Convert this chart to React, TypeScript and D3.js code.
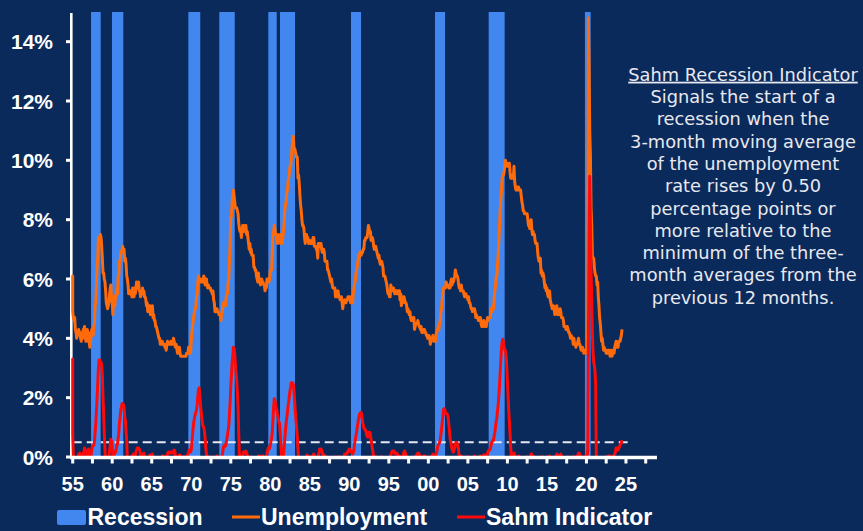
import React from 'react';
import * as d3 from 'd3';

const W = 863;
const H = 531;

// Monthly unemployment rate (%), seasonally adjusted. Each array starts in January.
// 1952–1953 serve only as look-back months for the Sahm calculation.
const rateLookback1952 = [
  3.2, 3.1, 2.9, 2.9, 3.0, 3.0, 3.2, 3.4, 3.1, 3.0, 2.8, 2.7,
  2.9, 2.6, 2.6, 2.7, 2.5, 2.5, 2.6, 2.7, 2.9, 3.1, 3.5, 4.5,
];
const rate1954to1959 = [
  4.9, 5.2, 5.7, 5.9, 5.9, 5.6, 5.8, 6.0, 6.1, 5.7, 5.3, 5.0,
  4.9, 4.7, 4.6, 4.7, 4.3, 4.2, 4.0, 4.2, 4.1, 4.3, 4.2, 4.2,
  4.0, 3.9, 4.2, 4.0, 4.3, 4.3, 4.4, 4.1, 3.9, 3.9, 4.3, 4.2,
  4.2, 3.9, 3.7, 3.9, 4.1, 4.3, 4.2, 4.1, 4.4, 4.5, 5.1, 5.2,
  5.8, 6.4, 6.7, 7.4, 7.4, 7.3, 7.5, 7.4, 7.1, 6.7, 6.2, 6.2,
  6.0, 5.9, 5.6, 5.2, 5.1, 5.0, 5.1, 5.2, 5.5, 5.7, 5.8, 5.3,
];
const rate1960s = [
  5.2, 4.8, 5.4, 5.2, 5.1, 5.4, 5.5, 5.6, 5.5, 6.1, 6.1, 6.6,
  6.6, 6.9, 6.9, 7.0, 7.1, 6.9, 7.0, 6.6, 6.7, 6.5, 6.1, 6.0,
  5.8, 5.5, 5.6, 5.6, 5.5, 5.5, 5.4, 5.7, 5.6, 5.4, 5.7, 5.5,
  5.7, 5.9, 5.7, 5.7, 5.9, 5.6, 5.6, 5.4, 5.5, 5.5, 5.7, 5.5,
  5.6, 5.4, 5.4, 5.3, 5.1, 5.2, 4.9, 5.0, 5.1, 5.1, 4.8, 5.0,
  4.9, 5.1, 4.7, 4.8, 4.6, 4.6, 4.4, 4.4, 4.3, 4.2, 4.1, 4.0,
  4.0, 3.8, 3.8, 3.8, 3.9, 3.8, 3.8, 3.8, 3.7, 3.7, 3.6, 3.8,
  3.9, 3.8, 3.8, 3.8, 3.8, 3.9, 3.8, 3.8, 3.8, 4.0, 3.9, 3.8,
  3.7, 3.8, 3.7, 3.5, 3.5, 3.7, 3.7, 3.5, 3.4, 3.4, 3.4, 3.4,
  3.4, 3.4, 3.4, 3.4, 3.4, 3.5, 3.5, 3.5, 3.7, 3.7, 3.5, 3.5,
];
const rate1970s = [
  3.9, 4.2, 4.4, 4.6, 4.8, 4.9, 5.0, 5.1, 5.4, 5.5, 5.9, 6.1,
  5.9, 5.9, 6.0, 5.9, 5.9, 5.9, 6.0, 6.1, 6.0, 5.8, 6.0, 6.0,
  5.8, 5.7, 5.8, 5.7, 5.7, 5.7, 5.6, 5.6, 5.5, 5.6, 5.3, 5.2,
  4.9, 5.0, 4.9, 5.0, 4.9, 4.9, 4.8, 4.8, 4.8, 4.6, 4.8, 4.9,
  5.1, 5.2, 5.1, 5.1, 5.1, 5.4, 5.5, 5.5, 5.9, 6.0, 6.6, 7.2,
  8.1, 8.1, 8.6, 8.8, 9.0, 8.8, 8.6, 8.4, 8.4, 8.4, 8.3, 8.2,
  7.9, 7.7, 7.6, 7.7, 7.4, 7.6, 7.8, 7.8, 7.6, 7.7, 7.8, 7.8,
  7.5, 7.6, 7.4, 7.2, 7.0, 7.2, 6.9, 7.0, 6.8, 6.8, 6.8, 6.4,
  6.4, 6.3, 6.3, 6.1, 6.0, 5.9, 6.2, 5.9, 6.0, 5.8, 5.9, 6.0,
  5.9, 5.9, 5.8, 5.8, 5.6, 5.7, 5.7, 6.0, 5.9, 6.0, 5.9, 6.0,
];
const rate1980s = [
  6.3, 6.3, 6.3, 6.9, 7.5, 7.6, 7.8, 7.7, 7.5, 7.5, 7.5, 7.2,
  7.5, 7.4, 7.4, 7.2, 7.5, 7.5, 7.2, 7.4, 7.6, 7.9, 8.3, 8.5,
  8.6, 8.9, 9.0, 9.3, 9.4, 9.6, 9.8, 9.8, 10.1, 10.4, 10.8, 10.8,
  10.4, 10.4, 10.3, 10.2, 10.1, 10.1, 9.4, 9.5, 9.2, 8.8, 8.5, 8.3,
  8.0, 7.8, 7.8, 7.7, 7.4, 7.2, 7.5, 7.5, 7.3, 7.4, 7.2, 7.3,
  7.3, 7.2, 7.2, 7.3, 7.2, 7.4, 7.4, 7.1, 7.1, 7.1, 7.0, 7.0,
  6.7, 7.2, 7.2, 7.1, 7.2, 7.2, 7.0, 6.9, 7.0, 7.0, 6.9, 6.6,
  6.6, 6.6, 6.6, 6.3, 6.3, 6.2, 6.1, 6.0, 5.9, 6.0, 5.8, 5.7,
  5.7, 5.7, 5.7, 5.4, 5.6, 5.4, 5.4, 5.6, 5.4, 5.4, 5.3, 5.3,
  5.4, 5.2, 5.0, 5.2, 5.2, 5.3, 5.2, 5.2, 5.3, 5.3, 5.4, 5.4,
];
const rate1990s = [
  5.4, 5.3, 5.2, 5.4, 5.4, 5.2, 5.5, 5.7, 5.9, 5.9, 6.2, 6.3,
  6.4, 6.6, 6.8, 6.7, 6.9, 6.9, 6.8, 6.9, 6.9, 7.0, 7.0, 7.3,
  7.3, 7.4, 7.4, 7.4, 7.6, 7.8, 7.7, 7.6, 7.6, 7.3, 7.4, 7.4,
  7.3, 7.1, 7.0, 7.1, 7.1, 7.0, 6.9, 6.8, 6.7, 6.8, 6.6, 6.5,
  6.6, 6.6, 6.5, 6.4, 6.1, 6.1, 6.1, 6.0, 5.9, 5.8, 5.6, 5.5,
  5.6, 5.4, 5.4, 5.8, 5.6, 5.6, 5.7, 5.7, 5.6, 5.5, 5.6, 5.6,
  5.6, 5.5, 5.5, 5.6, 5.6, 5.3, 5.5, 5.1, 5.2, 5.2, 5.4, 5.4,
  5.3, 5.2, 5.2, 5.1, 4.9, 5.0, 4.9, 4.8, 4.9, 4.7, 4.6, 4.7,
  4.6, 4.6, 4.7, 4.3, 4.4, 4.5, 4.5, 4.5, 4.6, 4.5, 4.4, 4.4,
  4.3, 4.4, 4.2, 4.3, 4.2, 4.3, 4.3, 4.2, 4.2, 4.1, 4.1, 4.0,
];
const rate2000s = [
  4.0, 4.1, 4.0, 3.8, 4.0, 4.0, 4.0, 4.1, 3.9, 3.9, 3.9, 3.9,
  4.2, 4.2, 4.3, 4.4, 4.3, 4.5, 4.6, 4.9, 5.0, 5.3, 5.5, 5.7,
  5.7, 5.7, 5.7, 5.9, 5.8, 5.8, 5.8, 5.7, 5.7, 5.7, 5.9, 6.0,
  5.8, 5.9, 5.9, 6.0, 6.1, 6.3, 6.2, 6.1, 6.1, 6.0, 5.8, 5.7,
  5.7, 5.6, 5.8, 5.6, 5.6, 5.6, 5.5, 5.4, 5.4, 5.5, 5.4, 5.4,
  5.3, 5.4, 5.2, 5.2, 5.1, 5.0, 5.0, 4.9, 5.0, 5.0, 5.0, 4.9,
  4.7, 4.8, 4.7, 4.7, 4.6, 4.6, 4.7, 4.7, 4.5, 4.4, 4.5, 4.4,
  4.6, 4.5, 4.4, 4.5, 4.4, 4.6, 4.7, 4.6, 4.7, 4.7, 4.7, 5.0,
  5.0, 4.9, 5.1, 5.0, 5.4, 5.6, 5.8, 6.1, 6.1, 6.5, 6.8, 7.3,
  7.8, 8.3, 8.7, 9.0, 9.4, 9.5, 9.5, 9.6, 9.8, 10.0, 9.9, 9.9,
];
const rate2010s = [
  9.8, 9.8, 9.9, 9.9, 9.6, 9.4, 9.4, 9.5, 9.5, 9.4, 9.8, 9.3,
  9.1, 9.0, 9.0, 9.1, 9.0, 9.1, 9.0, 9.0, 9.0, 8.8, 8.6, 8.5,
  8.3, 8.3, 8.2, 8.2, 8.2, 8.2, 8.2, 8.0, 7.8, 7.8, 7.7, 7.9,
  8.0, 7.7, 7.5, 7.6, 7.5, 7.5, 7.3, 7.2, 7.2, 7.2, 6.9, 6.7,
  6.6, 6.7, 6.7, 6.2, 6.3, 6.1, 6.2, 6.1, 5.9, 5.7, 5.8, 5.6,
  5.7, 5.5, 5.4, 5.4, 5.6, 5.3, 5.2, 5.1, 5.0, 5.0, 5.1, 5.0,
  4.8, 4.9, 5.0, 5.1, 4.8, 4.9, 4.8, 4.9, 5.0, 4.9, 4.7, 4.7,
  4.7, 4.6, 4.4, 4.4, 4.4, 4.3, 4.3, 4.4, 4.3, 4.2, 4.2, 4.1,
  4.0, 4.1, 4.0, 4.0, 3.8, 4.0, 3.8, 3.8, 3.7, 3.8, 3.8, 3.9,
  4.0, 3.8, 3.8, 3.7, 3.6, 3.6, 3.7, 3.6, 3.5, 3.6, 3.6, 3.6,
];
const rate2020s = [
  3.5, 3.5, 4.4, 14.8, 13.2, 11.0, 10.2, 8.4, 7.8, 6.8, 6.7, 6.7,
  6.4, 6.2, 6.1, 6.1, 5.8, 5.9, 5.4, 5.1, 4.7, 4.5, 4.2, 3.9,
  4.0, 3.8, 3.6, 3.7, 3.6, 3.6, 3.5, 3.6, 3.5, 3.6, 3.6, 3.5,
  3.4, 3.6, 3.5, 3.4, 3.6, 3.6, 3.5, 3.7, 3.8, 3.9, 3.7, 3.8,
  3.7, 3.9, 3.9, 3.9, 4.0, 4.1, 4.3,
];

// NBER recession spans as shaded (decimal years)
const recessionStarts = [1957.32, 1959.97, 1969.63, 1973.55, 1979.75, 1981.23, 1990.21, 2000.84, 2007.63, 2019.81];
const recessionEnds = [1958.54, 1961.4, 1971.14, 1975.5, 1980.81, 1983.13, 1991.48, 2002.11, 2009.65, 2020.53];

const yTickValues = [0, 2, 4, 6, 8, 10, 12, 14];
const xLabelYears = [1955, 1960, 1965, 1970, 1975, 1980, 1985, 1990, 1995, 2000, 2005, 2010, 2015, 2020, 2025];
const xLabelTexts = ['55', '60', '65', '70', '75', '80', '85', '90', '95', '00', '05', '10', '15', '20', '25'];
const sahmThreshold = 0.5;

const noteTitle = 'Sahm Recession Indicator';
const noteLines = [
  'Signals the start of a',
  'recession when the',
  '3-month moving average',
  'of the unemployment',
  'rate rises by 0.50',
  'percentage points or',
  'more relative to the',
  'minimum of the three-',
  'month averages from the',
  'previous 12 months.',
];

const BG = '#0a2a5c';
const BAR = '#4287ef';
const ORANGE = '#ff6a0a';
const RED = '#ff0a0a';
const WHITE = '#ffffff';

const seriesStartYear = 1952;
const plotStartIndex = rateLookback1952.length; // Jan 1954

const allRates = [
  ...rateLookback1952,
  ...rate1954to1959,
  ...rate1960s,
  ...rate1970s,
  ...rate1980s,
  ...rate1990s,
  ...rate2000s,
  ...rate2010s,
  ...rate2020s,
];

// Sahm rule: 3-month average minus the lowest 3-month average of the prior 12 months
const avg3 = allRates.map((v, i) => (i < 2 ? NaN : (allRates[i] + allRates[i - 1] + allRates[i - 2]) / 3));
const sahmValues = avg3.map((a, i) => {
  if (i < 14) return NaN;
  const prior = avg3.slice(i - 12, i);
  return a - (d3.min(prior) as number);
});

type Pt = [number, number];
const unemploymentPts: Pt[] = allRates
  .map((v, i) => [seriesStartYear + i / 12, v] as Pt)
  .slice(plotStartIndex);
const sahmPts: Pt[] = sahmValues
  .map((v, i) => [seriesStartYear + i / 12, v] as Pt)
  .slice(plotStartIndex);

export default function App() {
  const left = 72.7;
  const top = 12;
  const x = d3.scaleLinear().domain([1955, 2028.75]).range([left, 655.6]).clamp(true);
  const y = d3.scaleLinear().domain([0, 15]).range([457, top]);
  const y0 = y(0);

  const line = d3
    .line<Pt>()
    .x((d) => x(d[0]))
    .y((d) => y(d[1]));

  const minorTicks = d3.range(1955, 2028, 2.5);
  const labelFont = "'Liberation Sans', Arial, sans-serif";

  const legendY = 517;

  return (
    <svg
      width={W}
      height={H}
      style={{ position: 'absolute', left: 0, top: 0, background: BG }}
      xmlns="http://www.w3.org/2000/svg"
    >
      <defs>
        <clipPath id="plot-clip">
          <rect x={left - 3} y={top} width={x.range()[1] - left + 6} height={y0 - top + 1.5} />
        </clipPath>
      </defs>
      <rect x={0} y={0} width={W} height={H} fill={BG} />

      {/* recession shading */}
      {recessionStarts.map((s, i) => (
        <rect
          key={`rec-${i}`}
          x={x(s)}
          y={top}
          width={x(recessionEnds[i]) - x(s)}
          height={y0 - top}
          fill={BAR}
        />
      ))}

      {/* 0.5 pt trigger line */}
      <line
        x1={x(1955)}
        x2={x(2025.75)}
        y1={y(sahmThreshold)}
        y2={y(sahmThreshold)}
        stroke="#e8e8ee"
        strokeWidth={2}
        strokeDasharray="9 5"
      />

      {/* y axis, beneath the series */}
      <line x1={71.3} x2={71.3} y1={top + 1} y2={y0 + 2} stroke={WHITE} strokeWidth={2.6} />
      {yTickValues.map((v) => (
        <g key={`yt-${v}`}>
          <line x1={66} x2={71.5} y1={y(v)} y2={y(v)} stroke={WHITE} strokeWidth={3} />
          <text
            x={53}
            y={y(v) + 7.5}
            textAnchor="end"
            fill={WHITE}
            fontFamily={labelFont}
            fontWeight="bold"
            fontSize={21}
          >
            {`${v}%`}
          </text>
        </g>
      ))}

      <g clipPath="url(#plot-clip)">
        <path d={line(unemploymentPts) || ''} fill="none" stroke={ORANGE} strokeWidth={3} strokeLinejoin="round" />
        <path
          d={line(sahmPts.filter((d) => !isNaN(d[1]))) || ''}
          fill="none"
          stroke={RED}
          strokeWidth={3}
          strokeLinejoin="round"
        />
      </g>

      {/* x axis */}
      <line x1={70} x2={657} y1={y0 + 0.5} y2={y0 + 0.5} stroke={WHITE} strokeWidth={3.4} />
      {minorTicks.map((t) => (
        <line key={`xt-${t}`} x1={x(t)} x2={x(t)} y1={y0} y2={y0 + 6.5} stroke={WHITE} strokeWidth={3} />
      ))}
      {xLabelYears.map((yr, i) => (
        <text
          key={`xl-${yr}`}
          x={x(yr)}
          y={490.5}
          textAnchor="middle"
          fill={WHITE}
          fontFamily={labelFont}
          fontWeight="bold"
          fontSize={20}
        >
          {xLabelTexts[i]}
        </text>
      ))}

      {/* legend */}
      <g fontFamily={labelFont} fontWeight="bold" fontSize={23} fill={WHITE}>
        <rect x={57} y={510} width={29} height={15} rx={2} fill={BAR} />
        <text x={87.5} y={legendY + 8}>Recession</text>
        <line x1={232} x2={260} y1={legendY} y2={legendY} stroke={ORANGE} strokeWidth={3} />
        <text x={261} y={legendY + 8}>Unemployment</text>
        <line x1={457} x2={485} y1={legendY} y2={legendY} stroke={RED} strokeWidth={3} />
        <text x={486} y={legendY + 8}>Sahm Indicator</text>
      </g>

      {/* explanatory note */}
      <g fontFamily="'DejaVu Sans', Verdana, sans-serif" fontSize={17.8} fill="#e8e8ee" textAnchor="middle">
        <text x={743} y={80.7} textDecoration="underline">
          {noteTitle}
        </text>
        {noteLines.map((t, i) => (
          <text key={`note-${i}`} x={743} y={80.7 + (i + 1) * 22.3}>
            {t}
          </text>
        ))}
      </g>
    </svg>
  );
}
